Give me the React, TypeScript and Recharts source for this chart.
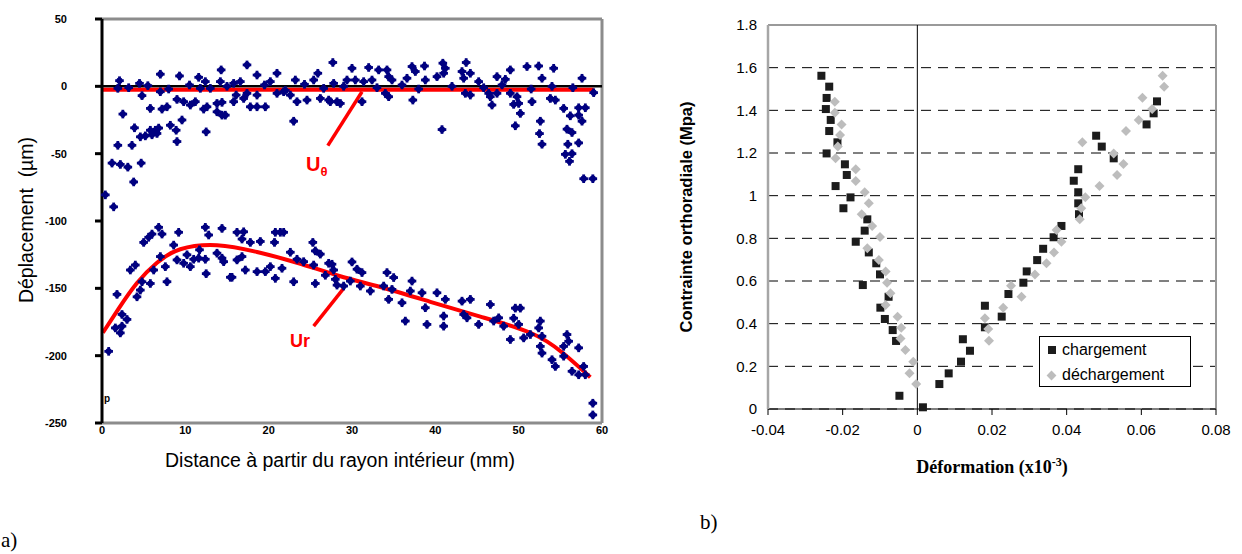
import React from 'react';
import {
  ComposedChart,
  ScatterChart,
  Scatter,
  Line,
  XAxis,
  YAxis,
  CartesianGrid,
  ReferenceLine,
} from 'recharts';

// ---- a) déplacement vs distance ----
const distTicks = [0, 10, 20, 30, 40, 50, 60];
const dispTicks = [-250, -200, -150, -100, -50, 0, 50];

const uThetaPts: [number, number][] = [
  [2.1, 4.2], [1.9, -1.5], [2.5, -20.6], [0.4, -80.6], [1.4, -89.5], [1.9, -43.8], [3.6, -43.8],
  [1.2, -57], [2.2, -58], [3.1, -60], [4.7, -57], [3.8, -71], [3.9, -30.8], [4.6, -37.5],
  [5.2, -36.8], [5.8, -32.6], [6.4, -32.6], [6.8, -31], [6.0, -36], [6.6, -35], [8.2, -28.9],
  [8.9, -32.6], [9.0, -41], [12.5, -33.8], [9.6, -25], [5.8, -16.4], [7.2, -16.9], [7.8, -15.2],
  [4.8, -6.9], [4.5, 2.2], [7.0, 9], [9.3, 7.7], [7.0, -4], [9.0, -9.7], [9.8, -11.4],
  [10.6, -13.9], [11.2, -11.4], [12.2, -16.9], [12.6, -15.2], [11.6, 6.7], [12.4, 3.5],
  [11.8, -1.5], [14.3, 12.2], [14.2, 3.5], [13.8, -12.7], [14.4, -11.9], [13.8, -18.9],
  [14.4, -21.4], [14.8, -21.4], [15.8, 2.2], [16.6, 3.5], [16.1, -6.5], [15.8, -11.4], [17.0, -9],
  [17.4, 15.9], [17.4, -5.2], [17.8, -15.2], [18.6, -15.2], [19.6, -15.2], [18.6, 8.4],
  [18.6, -6.5], [20.2, 3.5], [21.0, 9.7], [21.0, -5.2], [21.8, -4], [22.6, -6.5], [23.2, 4.7],
  [23.0, -25.9], [23.4, -11.4], [24.6, -10.2], [25.4, 4.7], [25.9, 9.7], [26.6, -1.5], [26.2, -9],
  [27.2, -10.2], [28.2, -11.4], [27.7, 17.7], [27.8, 2.2], [30.0, 13.4], [32.0, 14], [33.2, 12.2],
  [34.2, 12.2], [34.4, 7.2], [34.8, 4.7], [37.2, 14.7], [37.6, 11], [38.7, 15.1], [36.6, 6],
  [38.8, 4.7], [40.2, 7.2], [40.9, 17.2], [41.2, 13.4], [41.0, 9.7], [43.2, 11], [43.4, 6],
  [43.7, 17.7], [44.2, 9.7], [45.2, 3.5], [47.4, 7.2], [48.4, 5.2], [49.0, 12.2], [51.0, 14.7],
  [52.4, 15.1], [54.2, 13.4], [52.8, 6], [57.6, 6], [29.4, 4.7], [30.4, 4.7], [31.4, 3.5],
  [32.4, 4.7], [27.4, -11.4], [28.6, -12.7], [31.2, -11.4], [34.0, -5.2], [34.4, -7.7],
  [37.3, -10.2], [40.8, -32.1], [43.6, -5.2], [44.2, -6.5], [46.4, -5.2], [46.6, -7.7],
  [47.4, -5.2], [46.8, -13.9], [49.0, -5.2], [49.8, -7.7], [50.0, -12.7], [49.4, -13.4],
  [50.2, -20.1], [49.6, -29.3], [51.6, -11.4], [52.6, -25.9], [52.5, -35.1], [52.8, -43],
  [53.8, -9], [54.4, -10.2], [55.4, -16.4], [56.2, -21.9], [57.2, -21.4], [57.2, -15.9],
  [58.0, -15.9], [57.6, -25.9], [55.8, -31.8], [56.4, -34.3], [55.9, -43], [57.2, -42],
  [55.6, -50.5], [56.4, -50], [56.1, -55.7], [57.8, -68.6], [58.9, -68.6], [59.0, -4.7],
  [3.2, -1], [5.5, 0.5], [8.0, -2], [10.5, 1], [13.0, -1.5], [15.0, 0], [19.5, 1], [22.0, -3],
  [24.3, 1.5], [29.0, 0], [33.0, -1], [36.0, 1], [38.0, -2], [42.0, 0], [45.8, -1], [48.0, 1],
  [51.5, -2], [54.0, 0], [56.5, -1],
];

const urPts: [number, number][] = [
  [6.8, -104.7], [7.2, -109.7], [6.0, -109.7], [5.6, -112.1], [5.0, -115.9], [9.2, -108.4],
  [8.6, -117.9], [12.4, -104.7], [12.8, -110.4], [14.4, -105.5], [16.2, -108.4], [17.0, -108],
  [16.8, -113.4], [17.8, -115.9], [19.0, -115.2], [20.7, -115.9], [21.4, -108.4], [25.3, -115.9],
  [25.6, -122.2], [26.2, -124.6], [22.6, -123.2], [23.4, -128.4], [24.2, -130.2], [25.4, -132.7],
  [27.2, -131.4], [27.8, -136.4], [28.2, -147.6], [25.6, -146.4], [26.8, -140.3], [23.0, -145.1],
  [20.8, -142.6], [21.6, -135.1], [20.2, -133.9], [19.6, -137.6], [18.6, -137.6], [17.2, -136.4],
  [15.4, -141.8], [16.2, -128.9], [16.8, -126.4], [14.6, -130.2], [13.8, -123.9], [14.4, -127.6],
  [12.4, -128.4], [11.6, -127.6], [11.0, -128.4], [11.7, -121.4], [12.5, -139.1], [10.6, -133.9],
  [9.8, -131.4], [9.0, -128.9], [10.2, -125.1], [7.6, -133.9], [7.0, -126.4], [7.8, -145.1],
  [6.2, -136.4], [5.8, -146.4], [4.8, -145.1], [4.6, -151.3], [4.2, -156.3], [3.4, -136.4],
  [4.0, -132.7], [1.8, -154.5], [2.4, -169.4], [3.0, -173.1], [2.4, -178.1], [1.6, -179.4],
  [2.2, -183.1], [0.8, -196.8], [15.6, -141.8], [20.8, -108.4], [21.8, -108.4],
  [27.6, -132.1], [28.0, -143.3], [30.0, -130.4], [30.6, -135.8], [31.2, -138.3], [29.8, -144.6],
  [31.0, -148.3], [32.2, -152], [34.2, -138.3], [35.0, -142], [33.8, -148.3], [34.8, -150.8],
  [34.4, -158.2], [36.0, -160.7], [37.2, -144.6], [37.0, -152], [38.4, -153.3], [38.8, -164.4],
  [39.0, -176.8], [40.2, -153.3], [41.2, -158.2], [41.0, -170.6], [41.0, -178.1], [43.2, -159.5],
  [44.2, -158.2], [43.4, -169.4], [43.8, -171.9], [45.2, -176.8], [46.6, -162], [47.0, -174.3],
  [47.6, -171.9], [48.2, -178.1], [49.0, -188], [49.6, -164.7], [50.2, -164.7], [49.4, -172.2],
  [50.0, -176.8], [50.6, -186.8], [51.4, -184.3], [52.6, -174.3], [52.4, -179.4], [52.8, -185.6],
  [52.6, -193.1], [52.8, -198.1], [54.0, -203], [54.4, -208], [55.8, -184.3], [56.0, -189.3],
  [55.4, -193.1], [57.2, -194.2], [55.4, -200.4], [56.4, -211.6], [57.2, -214.2], [57.8, -208],
  [58.0, -214.2], [58.9, -235.3], [58.9, -244], [29.0, -148.3], [36.4, -174.3],
];

const uThetaFit: [number, number][] = [[0, -2.5], [59, -2.5]];
const urFit: [number, number][] = [
  [0.1, -183], [2.0, -165], [4.2, -146], [6.6, -131], [9.4, -121], [13.8, -118],
  [18.6, -123], [23.4, -131], [28.6, -141], [33.4, -149], [39.4, -160], [45.4, -171],
  [51.4, -183], [55.3, -198], [58.6, -216],
];

// ---- b) contrainte vs déformation ----
const strainTicks = [-0.04, -0.02, 0, 0.02, 0.04, 0.06, 0.08];
const stressTicks = [0, 0.2, 0.4, 0.6, 0.8, 1, 1.2, 1.4, 1.6, 1.8];

const chargement: [number, number][] = [
  [-0.0257, 1.562], [-0.0236, 1.511], [-0.0243, 1.458], [-0.0245, 1.406], [-0.0232, 1.355],
  [-0.0236, 1.303], [-0.0214, 1.25], [-0.0243, 1.198], [-0.0194, 1.147], [-0.0189, 1.097],
  [-0.0219, 1.045], [-0.0179, 0.992], [-0.0198, 0.941], [-0.0134, 0.889], [-0.0141, 0.836],
  [-0.0165, 0.784], [-0.013, 0.734], [-0.011, 0.683], [-0.01, 0.631], [-0.0146, 0.581],
  [-0.0077, 0.526], [-0.0099, 0.475], [-0.0087, 0.422], [-0.0066, 0.37], [-0.0057, 0.319],
  [-0.0048, 0.062], [0.0015, 0.008], [0.0059, 0.117], [0.0084, 0.167], [0.0117, 0.222],
  [0.0141, 0.273], [0.0122, 0.327], [0.0181, 0.383], [0.0181, 0.484], [0.0226, 0.433],
  [0.0244, 0.539], [0.0284, 0.592], [0.0293, 0.645], [0.0321, 0.698], [0.0337, 0.751],
  [0.0365, 0.805], [0.0386, 0.858], [0.0433, 0.913], [0.0431, 0.964], [0.0431, 1.016],
  [0.0419, 1.07], [0.0431, 1.124], [0.0526, 1.175], [0.0494, 1.23], [0.0479, 1.281],
  [0.0614, 1.334], [0.0633, 1.386], [0.0642, 1.442],
];

const dechargement: [number, number][] = [
  [-0.0221, 1.44], [-0.0221, 1.389], [-0.0203, 1.334], [-0.0207, 1.284], [-0.0213, 1.23],
  [-0.0219, 1.175], [-0.0165, 1.124], [-0.0165, 1.069], [-0.0141, 1.016], [-0.013, 0.964],
  [-0.0149, 0.913], [-0.0121, 0.858], [-0.01, 0.806], [-0.0134, 0.753], [-0.0103, 0.698],
  [-0.0085, 0.644], [-0.0081, 0.592], [-0.0072, 0.542], [-0.0085, 0.487], [-0.0053, 0.433],
  [-0.0043, 0.381], [-0.0045, 0.33], [-0.0032, 0.277], [-0.0011, 0.222], [-0.0021, 0.167],
  [-0.0003, 0.117], [0.019, 0.375], [0.0192, 0.32], [0.0181, 0.425], [0.023, 0.475],
  [0.0279, 0.526], [0.0251, 0.578], [0.0315, 0.631], [0.0346, 0.683], [0.0366, 0.734],
  [0.0386, 0.784], [0.0373, 0.839], [0.0435, 0.889], [0.0439, 0.941], [0.045, 0.992],
  [0.0488, 1.045], [0.0535, 1.097], [0.0552, 1.149], [0.0526, 1.198], [0.0442, 1.25],
  [0.0559, 1.303], [0.0593, 1.355], [0.0629, 1.406], [0.0603, 1.459], [0.0661, 1.511],
  [0.0657, 1.562],
];

const toXY = (pts: [number, number][]) => pts.map(([x, y]) => ({ x, y }));

const ARIAL = '"Liberation Sans", Arial, sans-serif';
const TIMES = '"Liberation Serif", "Times New Roman", serif';
const NAVY = '#000080';
const RED = '#ff0000';
const FRAME = '#8c8c8c';

const BlobShape = (props: any) => {
  const { cx, cy } = props;
  if (cx == null || cy == null) return null;
  return (
    <g fill={NAVY}>
      <circle cx={cx} cy={cy} r={3.1} />
      <rect x={cx - 1.4} y={cy - 4.3} width={2.8} height={8.6} />
      <rect x={cx - 4.3} y={cy - 1.4} width={8.6} height={2.8} />
    </g>
  );
};

const SquareShape = (props: any) => {
  const { cx, cy } = props;
  if (cx == null || cy == null) return null;
  return <rect x={cx - 4} y={cy - 4} width={8} height={8} fill="#1c1c1c" />;
};

const DiamondShape = (props: any) => {
  const { cx, cy } = props;
  if (cx == null || cy == null) return null;
  const r = 5;
  return (
    <polygon
      points={`${cx},${cy - r} ${cx + r},${cy} ${cx},${cy + r} ${cx - r},${cy}`}
      fill="#bdbdbd"
    />
  );
};

const fmtStrain = (v: number) => (v === 0 ? '0' : String(Number(v.toFixed(2))));
const fmtStress = (v: number) => String(Number(v.toFixed(1)));

const abs = (left: number, top: number): React.CSSProperties => ({
  position: 'absolute',
  left,
  top,
  whiteSpace: 'nowrap',
  lineHeight: 1,
});

const DisplacementChart = () => (
  <ComposedChart width={640} height={480} margin={{ top: 19, right: 38, bottom: 27, left: 0 }}>
    <XAxis
      type="number"
      dataKey="x"
      domain={[0, 60]}
      ticks={distTicks}
      height={30}
      axisLine={{ stroke: FRAME, strokeWidth: 3 }}
      tickLine={false}
      tickSize={0}
      tickMargin={3}
      tick={{ fontSize: 11, fontWeight: 900, fontFamily: ARIAL, fill: '#000' }}
    />
    <YAxis
      type="number"
      dataKey="y"
      domain={[-250, 50]}
      ticks={dispTicks}
      width={102}
      axisLine={{ stroke: '#000', strokeWidth: 3 }}
      tickLine={{ stroke: '#000', strokeWidth: 3 }}
      tickSize={7}
      tickMargin={28}
      tick={{ fontSize: 11, fontWeight: 900, fontFamily: ARIAL, fill: '#000' }}
    />
    <ReferenceLine y={50} stroke={FRAME} strokeWidth={3} />
    <ReferenceLine x={60} stroke={FRAME} strokeWidth={3} />
    <Scatter data={toXY(uThetaPts)} dataKey="y" shape={BlobShape} isAnimationActive={false} />
    <Scatter data={toXY(urPts)} dataKey="y" shape={BlobShape} isAnimationActive={false} />
    <ReferenceLine y={0} stroke="#000" strokeWidth={2.5} />
    <Line
      data={toXY(uThetaFit)}
      dataKey="y"
      type="linear"
      stroke={RED}
      strokeWidth={4}
      dot={false}
      isAnimationActive={false}
    />
    <Line
      data={toXY(urFit)}
      dataKey="y"
      type="natural"
      stroke={RED}
      strokeWidth={4}
      dot={false}
      isAnimationActive={false}
    />
    <ReferenceLine
      segment={[{ x: 27.1, y: -44 }, { x: 31.2, y: -4 }]}
      stroke={RED}
      strokeWidth={3.5}
    />
    <ReferenceLine
      segment={[{ x: 25.4, y: -178 }, { x: 29.0, y: -150 }]}
      stroke={RED}
      strokeWidth={3.5}
    />
  </ComposedChart>
);

const StrainChart = () => (
  <ScatterChart width={540} height={480} margin={{ top: 25, right: 24, bottom: 41, left: 0 }}>
    <CartesianGrid vertical={false} stroke="#000" strokeDasharray="10 7" />
    <XAxis
      type="number"
      dataKey="x"
      domain={[-0.04, 0.08]}
      ticks={strainTicks}
      tickFormatter={fmtStrain}
      height={30}
      axisLine={{ stroke: '#000' }}
      tickLine={{ stroke: '#000' }}
      tickSize={6}
      tickMargin={9}
      tick={{ fontSize: 15, fontFamily: ARIAL, fill: '#000' }}
    />
    <YAxis
      type="number"
      dataKey="y"
      domain={[0, 1.8]}
      ticks={stressTicks}
      tickFormatter={fmtStress}
      width={68}
      axisLine={{ stroke: '#a6a6a6', strokeWidth: 2.5 }}
      tickLine={false}
      tickSize={0}
      tickMargin={11}
      tick={{ fontSize: 15, fontFamily: ARIAL, fill: '#000' }}
    />
    <ReferenceLine y={1.8} stroke="#9a9a9a" strokeWidth={2} />
    <ReferenceLine x={0.08} stroke="#9a9a9a" strokeWidth={2} />
    <ReferenceLine x={0} stroke="#000" strokeWidth={1} />
    <Scatter data={toXY(chargement)} shape={SquareShape} isAnimationActive={false} />
    <Scatter data={toXY(dechargement)} shape={DiamondShape} isAnimationActive={false} />
  </ScatterChart>
);

export default function App() {
  return (
    <div
      style={{
        position: 'absolute',
        left: 0,
        top: 0,
        width: 1242,
        height: 554,
        background: '#fff',
        overflow: 'hidden',
        fontFamily: ARIAL,
      }}
    >
      <div style={{ position: 'absolute', left: 0, top: 0 }}>
        <DisplacementChart />
      </div>
      <div style={{ position: 'absolute', left: 700, top: 0 }}>
        <StrainChart />
      </div>

      {/* a) titles and notes */}
      <div
        style={{
          ...abs(27, 220),
          fontSize: 19.5,
          transform: 'translate(-50%, -50%) rotate(-90deg)',
        }}
      >
        Déplacement&nbsp; (µm)
      </div>
      <div style={{ ...abs(340, 461), fontSize: 19.5, transform: 'translate(-50%, -50%)' }}>
        Distance à partir du rayon intérieur (mm)
      </div>
      <div style={{ ...abs(306, 154), color: RED, fontWeight: 700, fontSize: 20 }}>
        U<span style={{ fontSize: 13, position: 'relative', top: 5 }}>θ</span>
      </div>
      <div style={{ ...abs(290, 332), color: RED, fontWeight: 700, fontSize: 18 }}>Ur</div>
      <div style={{ ...abs(104, 394), fontWeight: 900, fontSize: 10 }}>p</div>
      <div style={{ ...abs(1, 530), fontFamily: TIMES, fontSize: 21 }}>a)</div>

      {/* b) titles and legend */}
      <div
        style={{
          ...abs(686, 217),
          fontSize: 16.5,
          fontWeight: 700,
          transform: 'translate(-50%, -50%) rotate(-90deg)',
        }}
      >
        Contrainte orthoradiale (Mpa)
      </div>
      <div
        style={{
          ...abs(992, 466),
          fontFamily: TIMES,
          fontSize: 18,
          fontWeight: 700,
          transform: 'translate(-50%, -50%)',
        }}
      >
        Déformation (x10<sup style={{ fontSize: 12 }}>-3</sup>)
      </div>
      <div style={{ ...abs(700, 512), fontFamily: TIMES, fontSize: 21 }}>b)</div>

      <div
        style={{
          position: 'absolute',
          left: 1039,
          top: 336,
          width: 150,
          height: 49,
          border: '1px solid #000',
          background: '#fff',
          fontSize: 16,
        }}
      >
        <div style={{ position: 'absolute', left: 8, top: 9, width: 8, height: 8, background: '#1c1c1c' }} />
        <div style={{ ...abs(22, 5) }}>chargement</div>
        <div
          style={{
            position: 'absolute',
            left: 8,
            top: 35,
            width: 7,
            height: 7,
            background: '#bdbdbd',
            transform: 'rotate(45deg)',
          }}
        />
        <div style={{ ...abs(22, 30) }}>déchargement</div>
      </div>
    </div>
  );
}
